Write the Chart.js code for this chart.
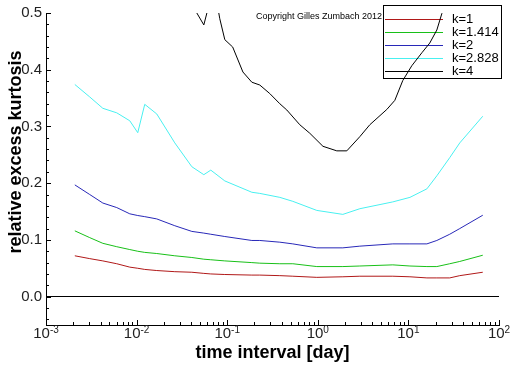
<!DOCTYPE html>
<html>
<head>
<meta charset="utf-8">
<script src="https://cdn.jsdelivr.net/npm/chart.js@4/dist/chart.umd.min.js"></script>
<style>
  html, body { margin: 0; padding: 0; background: #fff; }
  #wrap { width: 512px; height: 366px; }
</style>
</head>
<body>
<div id="wrap"><canvas id="kurt" width="512" height="366"></canvas></div>
<script>
// time intervals [day] shared by k=1 .. k=2.828
const xGrid = [0.00208, 0.00304, 0.00424, 0.00604, 0.00841, 0.0103, 0.0123, 0.0167, 0.0264, 0.0407,
    0.0552, 0.0659, 0.0941, 0.187, 0.229, 0.381, 0.530, 0.975, 1.89, 2.91,
    6.73, 10.4, 16.0, 20.6, 28.6, 36.9, 66.2];
const k1 = [0.072, 0.067, 0.063, 0.058, 0.052, 0.050, 0.048, 0.046, 0.044, 0.043,
    0.041, 0.040, 0.039, 0.038, 0.038, 0.037, 0.036, 0.034, 0.035, 0.036,
    0.036, 0.035, 0.033, 0.033, 0.033, 0.037, 0.043];
const k1414 = [0.116, 0.104, 0.094, 0.088, 0.083, 0.080, 0.078, 0.076, 0.072, 0.069,
    0.066, 0.065, 0.063, 0.060, 0.059, 0.058, 0.058, 0.053, 0.053, 0.054,
    0.056, 0.054, 0.053, 0.053, 0.058, 0.062, 0.073];
const k2 = [0.197, 0.180, 0.165, 0.157, 0.146, 0.143, 0.141, 0.137, 0.125, 0.115,
    0.112, 0.110, 0.106, 0.099, 0.099, 0.096, 0.093, 0.086, 0.086, 0.089,
    0.093, 0.093, 0.093, 0.099, 0.110, 0.120, 0.1435];
const k2828 = [0.374, 0.352, 0.332, 0.324, 0.310, 0.289, 0.339, 0.322, 0.271, 0.229,
    0.215, 0.223, 0.204, 0.184, 0.182, 0.175, 0.168, 0.152, 0.145, 0.155,
    0.167, 0.175, 0.190, 0.213, 0.245, 0.271, 0.318];

// k=4 runs mostly above the top of the plot
const xK4 = [0.00208, 0.00841, 0.0300, 0.0407, 0.0552, 0.0643, 0.0748, 0.0828, 0.0941, 0.115,
    0.149, 0.187, 0.229, 0.295, 0.381, 0.455, 0.633, 0.816, 1.14, 1.62,
    2.09, 2.91, 3.75, 5.78, 7.08, 8.67, 10.9, 14.1, 17.2, 20.6,
    23.4, 36.9, 66.2];
const k4 = [0.68, 0.60, 0.54, 0.515, 0.479, 0.52, 0.53, 0.49, 0.453, 0.44,
    0.396, 0.378, 0.373, 0.358, 0.340, 0.329, 0.303, 0.288, 0.265, 0.257,
    0.257, 0.282, 0.303, 0.330, 0.346, 0.381, 0.407, 0.430, 0.447, 0.470,
    0.499, 0.60, 0.75];

const labels = ['k=1', 'k=1.414', 'k=2', 'k=2.828', 'k=4'];
const colors = ['#b01818', '#18c018', '#2828b8', '#48f0f0', '#000000'];
const xDecades = [-3, -2, -1, 0, 1, 2];
const yTicks = [0, 0.1, 0.2, 0.3, 0.4, 0.5];

const FONT = '"Liberation Sans", Arial, sans-serif';

function pts(xs, ys) {
    return xs.map((x, i) => ({ x: x, y: ys[i] }));
}

const series = [pts(xGrid, k1), pts(xGrid, k1414), pts(xGrid, k2), pts(xGrid, k2828), pts(xK4, k4)];

// inward ticks, superscript x labels, titles, legend box, copyright
const decorations = {
    id: 'decorations',
    beforeDatasetsDraw(chart) {
        const ctx = chart.ctx;
        const area = chart.chartArea;
        const xs = chart.scales.x;
        const ys = chart.scales.y;
        ctx.save();
        ctx.strokeStyle = '#000';
        ctx.lineWidth = 1;
        ctx.beginPath();
        // y ticks every 0.02, longer at 0.1
        for (let i = -2; i <= 25; i++) {
            const v = i * 0.02;
            const py = Math.round(ys.getPixelForValue(v)) + 0.5;
            const len = (i % 5 === 0) ? 5 : 3;
            ctx.moveTo(area.left, py);
            ctx.lineTo(area.left + len, py);
        }
        // x ticks, log minor
        for (let d = -3; d <= 2; d++) {
            for (let m = 1; m <= 9; m++) {
                if (d === 2 && m > 1) break;
                const px = Math.round(xs.getPixelForValue(m * Math.pow(10, d))) + 0.5;
                const len = (m === 1) ? 5 : 3;
                ctx.moveTo(px, area.bottom);
                ctx.lineTo(px, area.bottom - len);
            }
        }
        ctx.stroke();

        // legend box (transparent, curves pass over it)
        ctx.strokeRect(383.5, 5.5, 118, 73);
        chart.data.datasets.forEach((ds, i) => {
            const y = Math.round(19 + i * 13.1) + 0.5;
            ctx.strokeStyle = ds.borderColor;
            ctx.beginPath();
            ctx.moveTo(385, y);
            ctx.lineTo(443, y);
            ctx.stroke();
            ctx.fillStyle = '#000';
            ctx.font = '13px ' + FONT;
            ctx.textAlign = 'left';
            ctx.textBaseline = 'middle';
            ctx.fillText(ds.label, 452, y);
        });

        ctx.fillStyle = '#000';
        ctx.font = '9px ' + FONT;
        ctx.textAlign = 'left';
        ctx.textBaseline = 'middle';
        ctx.fillText('Copyright Gilles Zumbach 2012', 256, 17);
        ctx.restore();
    },
    afterDraw(chart) {
        const ctx = chart.ctx;
        const xs = chart.scales.x;
        ctx.save();
        ctx.fillStyle = '#222';
        ctx.textBaseline = 'alphabetic';
        ctx.textAlign = 'left';
        xDecades.forEach(d => {
            const px = xs.getPixelForValue(Math.pow(10, d));
            ctx.font = '15px ' + FONT;
            const wBase = ctx.measureText('10').width;
            ctx.font = '10px ' + FONT;
            const exp = String(d);
            const wExp = ctx.measureText(exp).width;
            const x0 = px - (wBase + wExp) / 2;
            ctx.font = '15px ' + FONT;
            ctx.fillText('10', x0, 338);
            ctx.font = '10px ' + FONT;
            ctx.fillText(exp, x0 + wBase, 333);
        });

        ctx.fillStyle = '#000';
        ctx.font = 'bold 18px ' + FONT;
        ctx.textAlign = 'center';
        ctx.fillText('time interval [day]', (chart.chartArea.left + chart.chartArea.right) / 2, 358);

        ctx.translate(21, 152);
        ctx.rotate(-Math.PI / 2);
        ctx.fillText('relative excess kurtosis', 0, 0);
        ctx.restore();
    }
};

new Chart(document.getElementById('kurt'), {
    type: 'line',
    data: {
        datasets: series.map((d, i) => ({
            label: labels[i],
            data: d,
            borderColor: colors[i],
            backgroundColor: colors[i],
            borderWidth: 1,
            pointRadius: 0,
            tension: 0,
            fill: false
        }))
    },
    options: {
        responsive: false,
        animation: false,
        layout: { padding: { top: 8, right: 13, left: 0, bottom: 0 } },
        plugins: {
            legend: { display: false },
            tooltip: { enabled: false }
        },
        scales: {
            x: {
                type: 'logarithmic',
                min: 0.001,
                max: 100,
                afterFit: s => { s.height = 41; },
                grid: { display: false, drawTicks: false },
                border: { display: true, color: '#000', width: 1 },
                ticks: { display: false }
            },
            y: {
                type: 'linear',
                min: -0.05,
                max: 0.5,
                afterFit: s => { s.width = 46; },
                afterBuildTicks: s => { s.ticks = yTicks.map(v => ({ value: v })); },
                grid: {
                    drawTicks: false,
                    color: c => (c.tick && c.tick.value === 0) ? '#000' : 'rgba(0,0,0,0)',
                    lineWidth: 1
                },
                border: { display: true, color: '#000', width: 1 },
                ticks: {
                    padding: 4,
                    color: '#222',
                    font: { family: FONT, size: 15 },
                    callback: v => v.toFixed(1)
                }
            }
        }
    },
    plugins: [decorations]
});
</script>
</body>
</html>
